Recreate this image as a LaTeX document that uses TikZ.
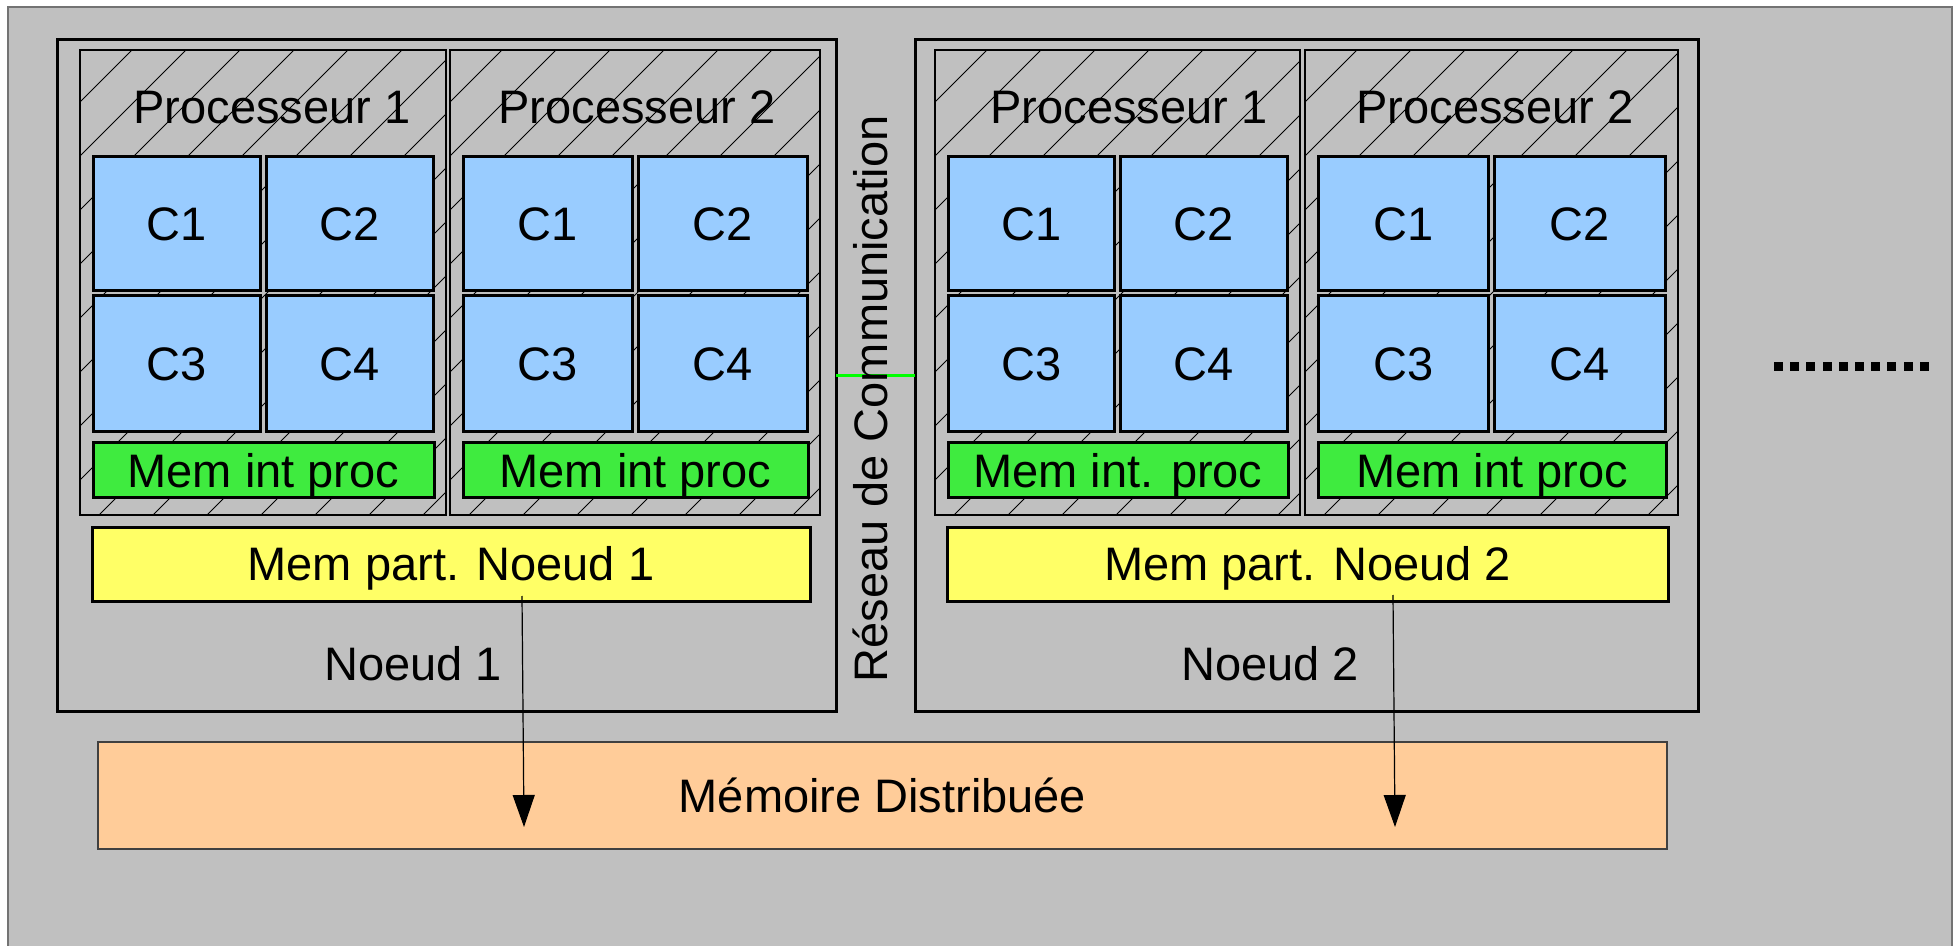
\documentclass[tikz,border=0pt]{standalone}
\usepackage{fontspec}
\setmainfont{Liberation Sans}
\usetikzlibrary{arrows.meta}
\definecolor{bg}{HTML}{C0C0C0}
\definecolor{cellblue}{HTML}{99CCFF}
\definecolor{memgreen}{HTML}{3FEB3F}
\definecolor{memyellow}{HTML}{FFFF66}
\definecolor{mempeach}{HTML}{FFCC99}
\definecolor{linkgreen}{HTML}{00FF00}
\newcommand\mkbox[7]{\node[#1, minimum width={((#5)-(#3))*0.5pt}, minimum height={((#6)-(#4))*0.5pt}] (#2) at ({((#3)+(#5))/2},{((#4)+(#6))/2}) {#7};}
\begin{document}
\begin{tikzpicture}[x=0.5pt,y=-0.5pt,
  font=\fontsize{23.5}{28}\selectfont,
  every node/.style={inner sep=0pt, outer sep=0pt, text height=17pt, text depth=0pt},
  frame/.style={draw=black, line width=1.5pt},
  procbox/.style={draw=black, line width=1.3pt},
  cell/.style={draw=black, line width=1.5pt, fill=cellblue},
  memint/.style={draw=black, line width=1.5pt, fill=memgreen},
  mempart/.style={draw=black, line width=1.5pt, fill=memyellow},
  memdist/.style={draw=black!75, line width=0.6pt, fill=mempeach},
  hatch/.style={draw=black, line width=0.45pt},
  arr/.style={draw=black, line width=0.6pt, -{Triangle[length=16pt,width=11pt]}},
  link/.style={draw=linkgreen, line width=1.5pt}
]
\useasboundingbox (0,0) rectangle (1960,946);
\fill[white] (0,0) rectangle (1960,946);
\filldraw[fill=bg, draw=black!55, line width=0.8pt] (8,7) rectangle (1952,960);

% nodes (frames)
\mkbox{frame}{n1}{57}{40}{836}{711}{}
\mkbox{frame}{n2}{915}{40}{1698}{711}{}

% processors
\foreach \a/\b/\lx/\pn/\mt/\nm in {80/446/272/1/Mem int proc/pa, 450/820/637/2/Mem int proc/pb, 935/1300/1129/1/Mem int. proc/pc, 1305/1678/1495/2/Mem int proc/pd}{
  \pgfmathsetmacro\m{(\a+\b)/2}
  \begin{scope}
    \clip (\a,50) rectangle (\b,515);
    \foreach \k in {0,...,16}{ \draw[hatch] ({\a+52+54*\k},50) -- ++(-700,700); }
  \end{scope}
  \mkbox{procbox}{\nm}{\a}{50}{\b}{515}{}
  \node (\nm-l) at (\lx,106.5) {Processeur \pn};
  \mkbox{cell}{\nm-c1}{\a+13}{157}{\m-3}{291}{C1}
  \mkbox{cell}{\nm-c2}{\m+3}{157}{\b-13}{291}{C2}
  \mkbox{cell}{\nm-c3}{\a+13}{296}{\m-3}{432}{C3}
  \mkbox{cell}{\nm-c4}{\m+3}{296}{\b-13}{432}{C4}
  \mkbox{memint}{\nm-m}{\a+13}{443}{\b-12}{498}{\mt}
}

% shared memories
\mkbox{mempart}{y1}{92}{527}{810}{601}{Mem part. Noeud 1}
\mkbox{mempart}{y2}{947}{527}{1668}{601}{Mem part. Noeud 2}

\node (l1) at (413,663.5) {Noeud 1};
\node (l2) at (1270,663.5) {Noeud 2};

% distributed memory
\mkbox{memdist}{md}{98}{742}{1667}{849}{Mémoire Distribuée}

% arrows
\draw[arr] ([xshift=35.5pt,yshift=2.5pt]y1.south) -- ([xshift=-179.25pt,yshift=-15.75pt]md.center);
\draw[arr] ([xshift=42.75pt,yshift=3pt]y2.south) -- ([xshift=256.25pt,yshift=-15.75pt]md.center);

% communication network
\draw[link] (n1.east) -- (n2.west);
\node[rotate=90] (net) at (870,399) {Réseau de Communication};

% continuation dots
\foreach \i in {0,...,9}{ \fill[black] ({1774+16.2*\i},362.5) rectangle ++(9,9); }
\end{tikzpicture}
\end{document}
